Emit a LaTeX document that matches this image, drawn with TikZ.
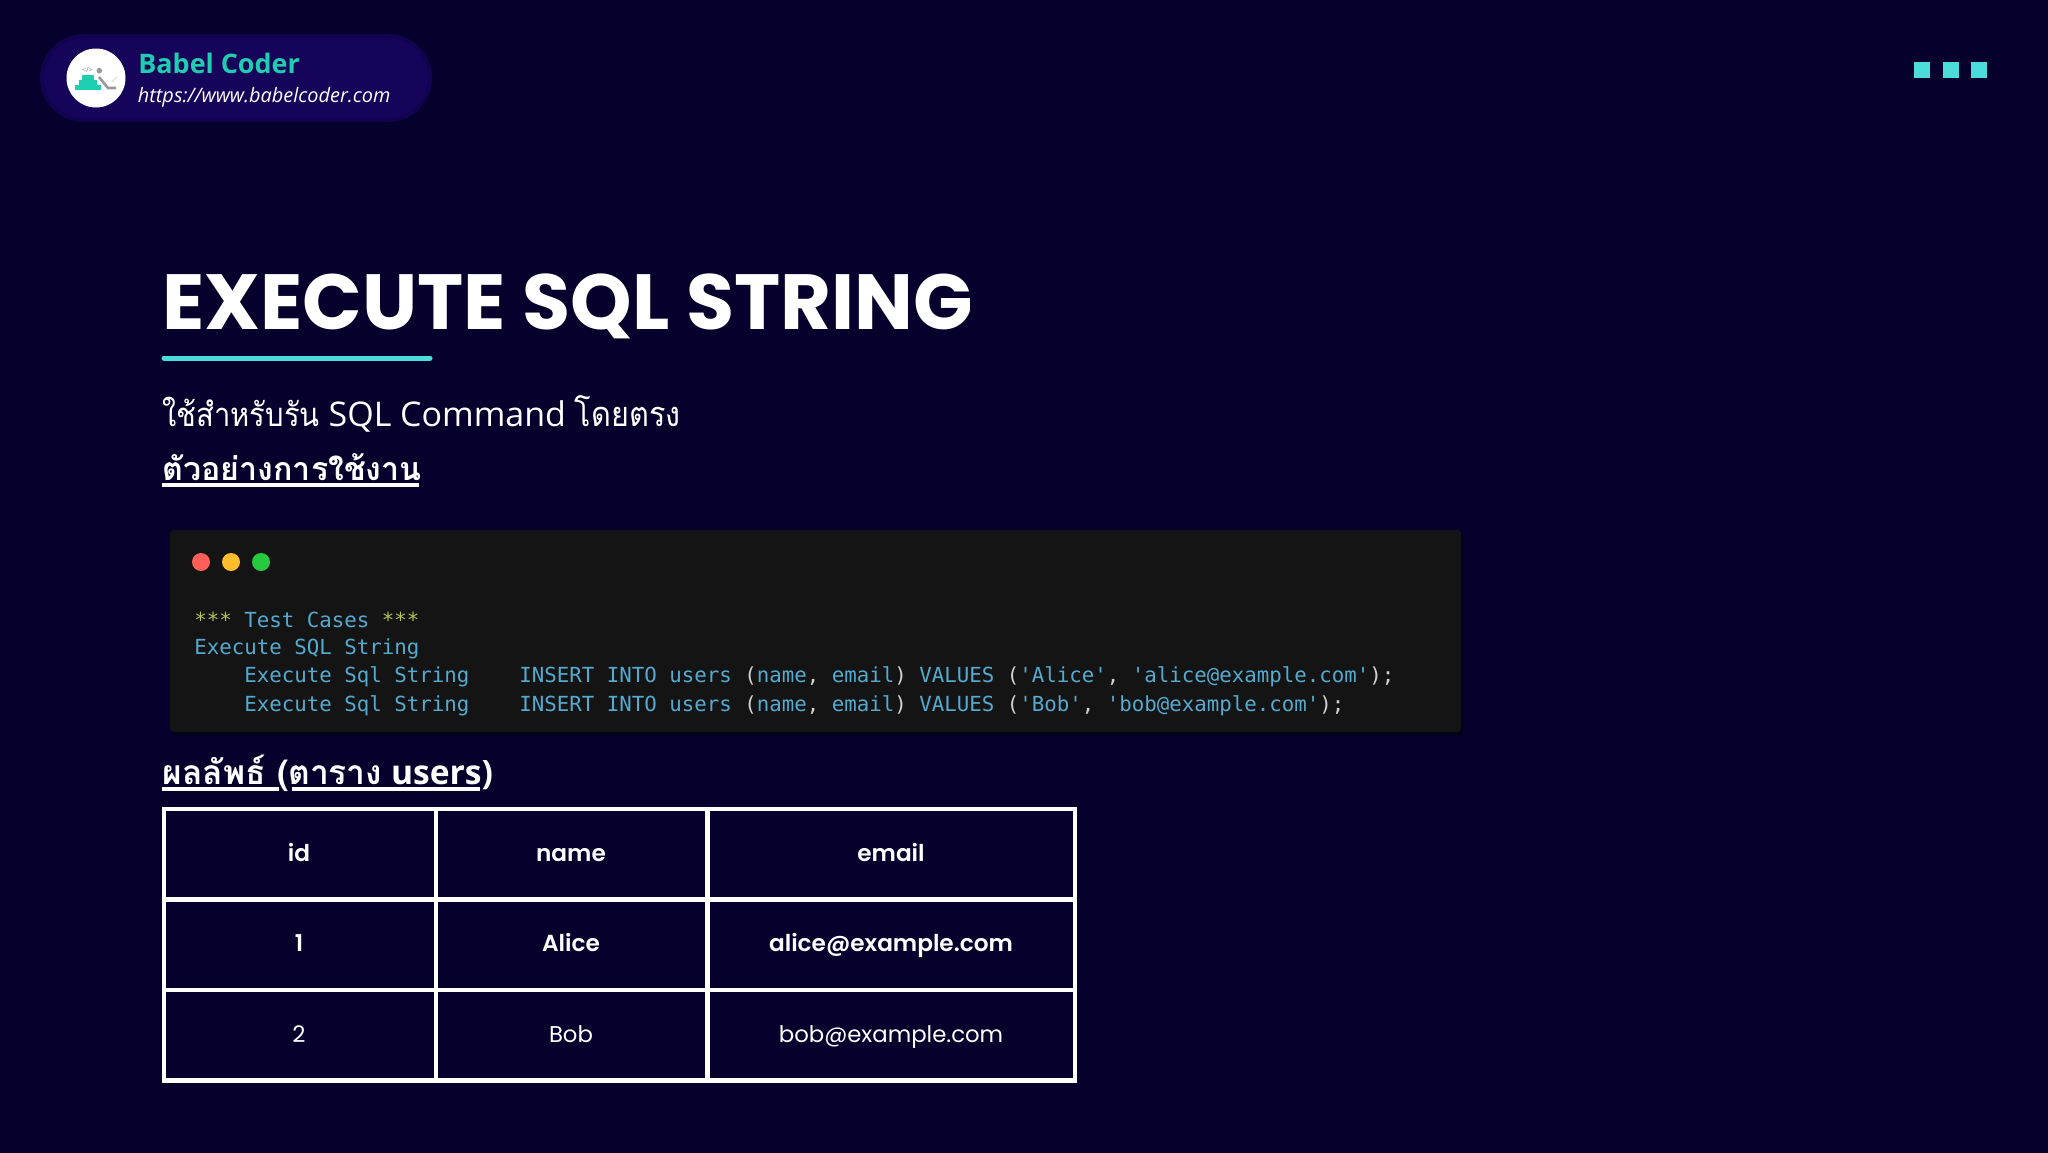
\documentclass[tikz,border=0pt]{standalone}
\usepackage{fontspec}
\setmainfont{Open Sans}
\newfontfamily\popf{Poppins}
\newfontfamily\popsb{Poppins SemiBold}
\newfontfamily\monof{DejaVu Sans Mono}
\newfontfamily\thaif[Script=Thai]{Loma}
\newfontfamily\thain[Script=Thai,FakeStretch=0.89]{Loma}
\newcommand{\fs}[1]{\fontsize{#1}{#1}\selectfont}
\definecolor{bgc}{HTML}{05012C}
\definecolor{pillc}{HTML}{16045A}
\definecolor{pilledge}{HTML}{110350}
\definecolor{tealc}{HTML}{1FCDB0}
\definecolor{cyanc}{HTML}{4CDCDC}
\definecolor{codebg}{HTML}{141414}
\definecolor{codeblue}{HTML}{55AAD0}
\definecolor{codegreen}{HTML}{AFC455}
\definecolor{codegrey}{HTML}{D2D2D2}
\definecolor{dotr}{HTML}{FF5F56}
\definecolor{doty}{HTML}{FFBD2E}
\definecolor{dotg}{HTML}{27C93F}
\definecolor{shadowc}{HTML}{03011A}
\newcommand{\cg}[1]{\textcolor{codegrey}{#1}}
\newcommand{\cs}[1]{\textcolor{codegreen}{#1}}
\tikzset{
  txt/.style={inner sep=0pt,anchor=base west,text=white},
  codeline/.style={inner sep=0pt,anchor=base west,text=codeblue,font=\monof\fs{10.38}},
  cellh/.style={inner sep=0pt,anchor=base,text=white,font=\popsb\fs{11.6}},
  cellr/.style={inner sep=0pt,anchor=base,text=white,font=\popf\fs{11.4}},
  gridline/.style={draw=white,line width=2.1pt},
  uline/.style={draw=white,line width=1.8pt},
  sq/.style={fill=cyanc,draw=none},
  dot/.style={circle,draw=none,inner sep=0pt,minimum size=9pt},
}
\begin{document}
\begin{tikzpicture}[x=0.5pt,y=-0.5pt]
\useasboundingbox (0,0) rectangle (2048,1152);
\fill[bgc] (-4,-4) rectangle (2052,1156);
% brand pill
\fill[pilledge,rounded corners=22pt] (40,34) rectangle (432,122);
\fill[pillc,rounded corners=20pt] (44,38) rectangle (428,118);
\node[circle,fill=white,inner sep=0pt,minimum size=29.5pt] (logo) at (96,78) {};
\fill[tealc] (75,85) rectangle (101,90);
\fill[tealc] (78.5,80) rectangle (97,85);
\fill[tealc] (82,75) rectangle (94,80);
\fill[gray!80] (99.3,70.7) circle (1.4pt);
\draw[gray!80,line width=1.3pt] (99,77) -- (108,88) -- (116,88);
\draw[gray!30,line width=0.4pt] (112,82) -- (117,77);
\node[inner sep=0pt,text=gray,font=\fs{3.5}] (tag) at (87.5,70) {</>};
\node[txt,text=tealc,font=\bfseries\fs{13.45}] (brand) at (138,73) {Babel Coder};
\node[txt,font=\itshape\fs{9.95}] (url) at (137.5,102) {https://www.babelcoder.com};
% squares
\fill[sq] (1914,62) rectangle (1930,78);
\fill[sq] (1943,62) rectangle (1959,78);
\fill[sq] (1971,62) rectangle (1987,78);
% title
\node[txt,font=\popf\bfseries\fs{39.1}] (title) at (162,329) {EXECUTE SQL STRING};
\draw[cyanc,line width=2.5pt,line cap=round] (164,358) -- (430,358);
% body
\node[txt,font=\fs{17}] (lead) at (162,426) {{\thain\fs{16.4}ใช้สำหรับรัน} SQL Command {\thain\fs{17.2}โดยตรง}};
\node[txt,font=\thaif\bfseries\fs{16.1}] (ex) at (162,480) {ตัวอย่างการใช้งาน};
\draw[uline] (162,485) -- (419,485);
% code box
\fill[shadowc] (173,535) rectangle (1463,736);
\fill[codebg,rounded corners=2pt] (170,530) rectangle (1461,732);
\node[dot,fill=dotr] (d1) at (201,562) {};
\node[dot,fill=doty] (d2) at (231,562) {};
\node[dot,fill=dotg] (d3) at (261,562) {};
\node[codeline] (c1) at (194,627) {\cs{***} Test Cases \cs{***}};
\node[codeline] (c2) at (194,654) {Execute SQL String};
\node[codeline] (c3) at (194,682.5) {\ \ \ \ Execute Sql String\ \ \ \ INSERT INTO users \cg{(}name\cg{,} email\cg{)} VALUES \cg{(}'Alice'\cg{,} 'alice@example.com'\cg{);}};
\node[codeline] (c4) at (194,711) {\ \ \ \ Execute Sql String\ \ \ \ INSERT INTO users \cg{(}name\cg{,} email\cg{)} VALUES \cg{(}'Bob'\cg{,} 'bob@example.com'\cg{);}};
% result heading
\node[txt,font=\bfseries\fs{16.8}] (res) at (162,784) {{\thaif ผลลัพธ์ (ตาราง} users)};
\draw[uline] (162,789) -- (279,789);
\draw[uline] (292,789) -- (480,789);
% table
\draw[gridline] (164,809) rectangle (1075,1080.5);
\draw[gridline] (435.6,809) -- (435.6,1080.5);
\draw[gridline] (707.5,809) -- (707.5,1080.5);
\draw[gridline] (164,899.5) -- (1075,899.5);
\draw[gridline] (164,990) -- (1075,990);
\node[cellh] (h1) at (299,861) {id};
\node[cellh] (h2) at (571,861) {name};
\node[cellh] (h3) at (891,861) {email};
\node[cellh] (r1a) at (299,951) {1};
\node[cellh] (r1b) at (571,951) {Alice};
\node[cellh] (r1c) at (891,951) {alice@example.com};
\node[cellr] (r2a) at (299,1042) {2};
\node[cellr] (r2b) at (571,1042) {Bob};
\node[cellr] (r2c) at (891,1042) {bob@example.com};
\end{tikzpicture}
\end{document}
